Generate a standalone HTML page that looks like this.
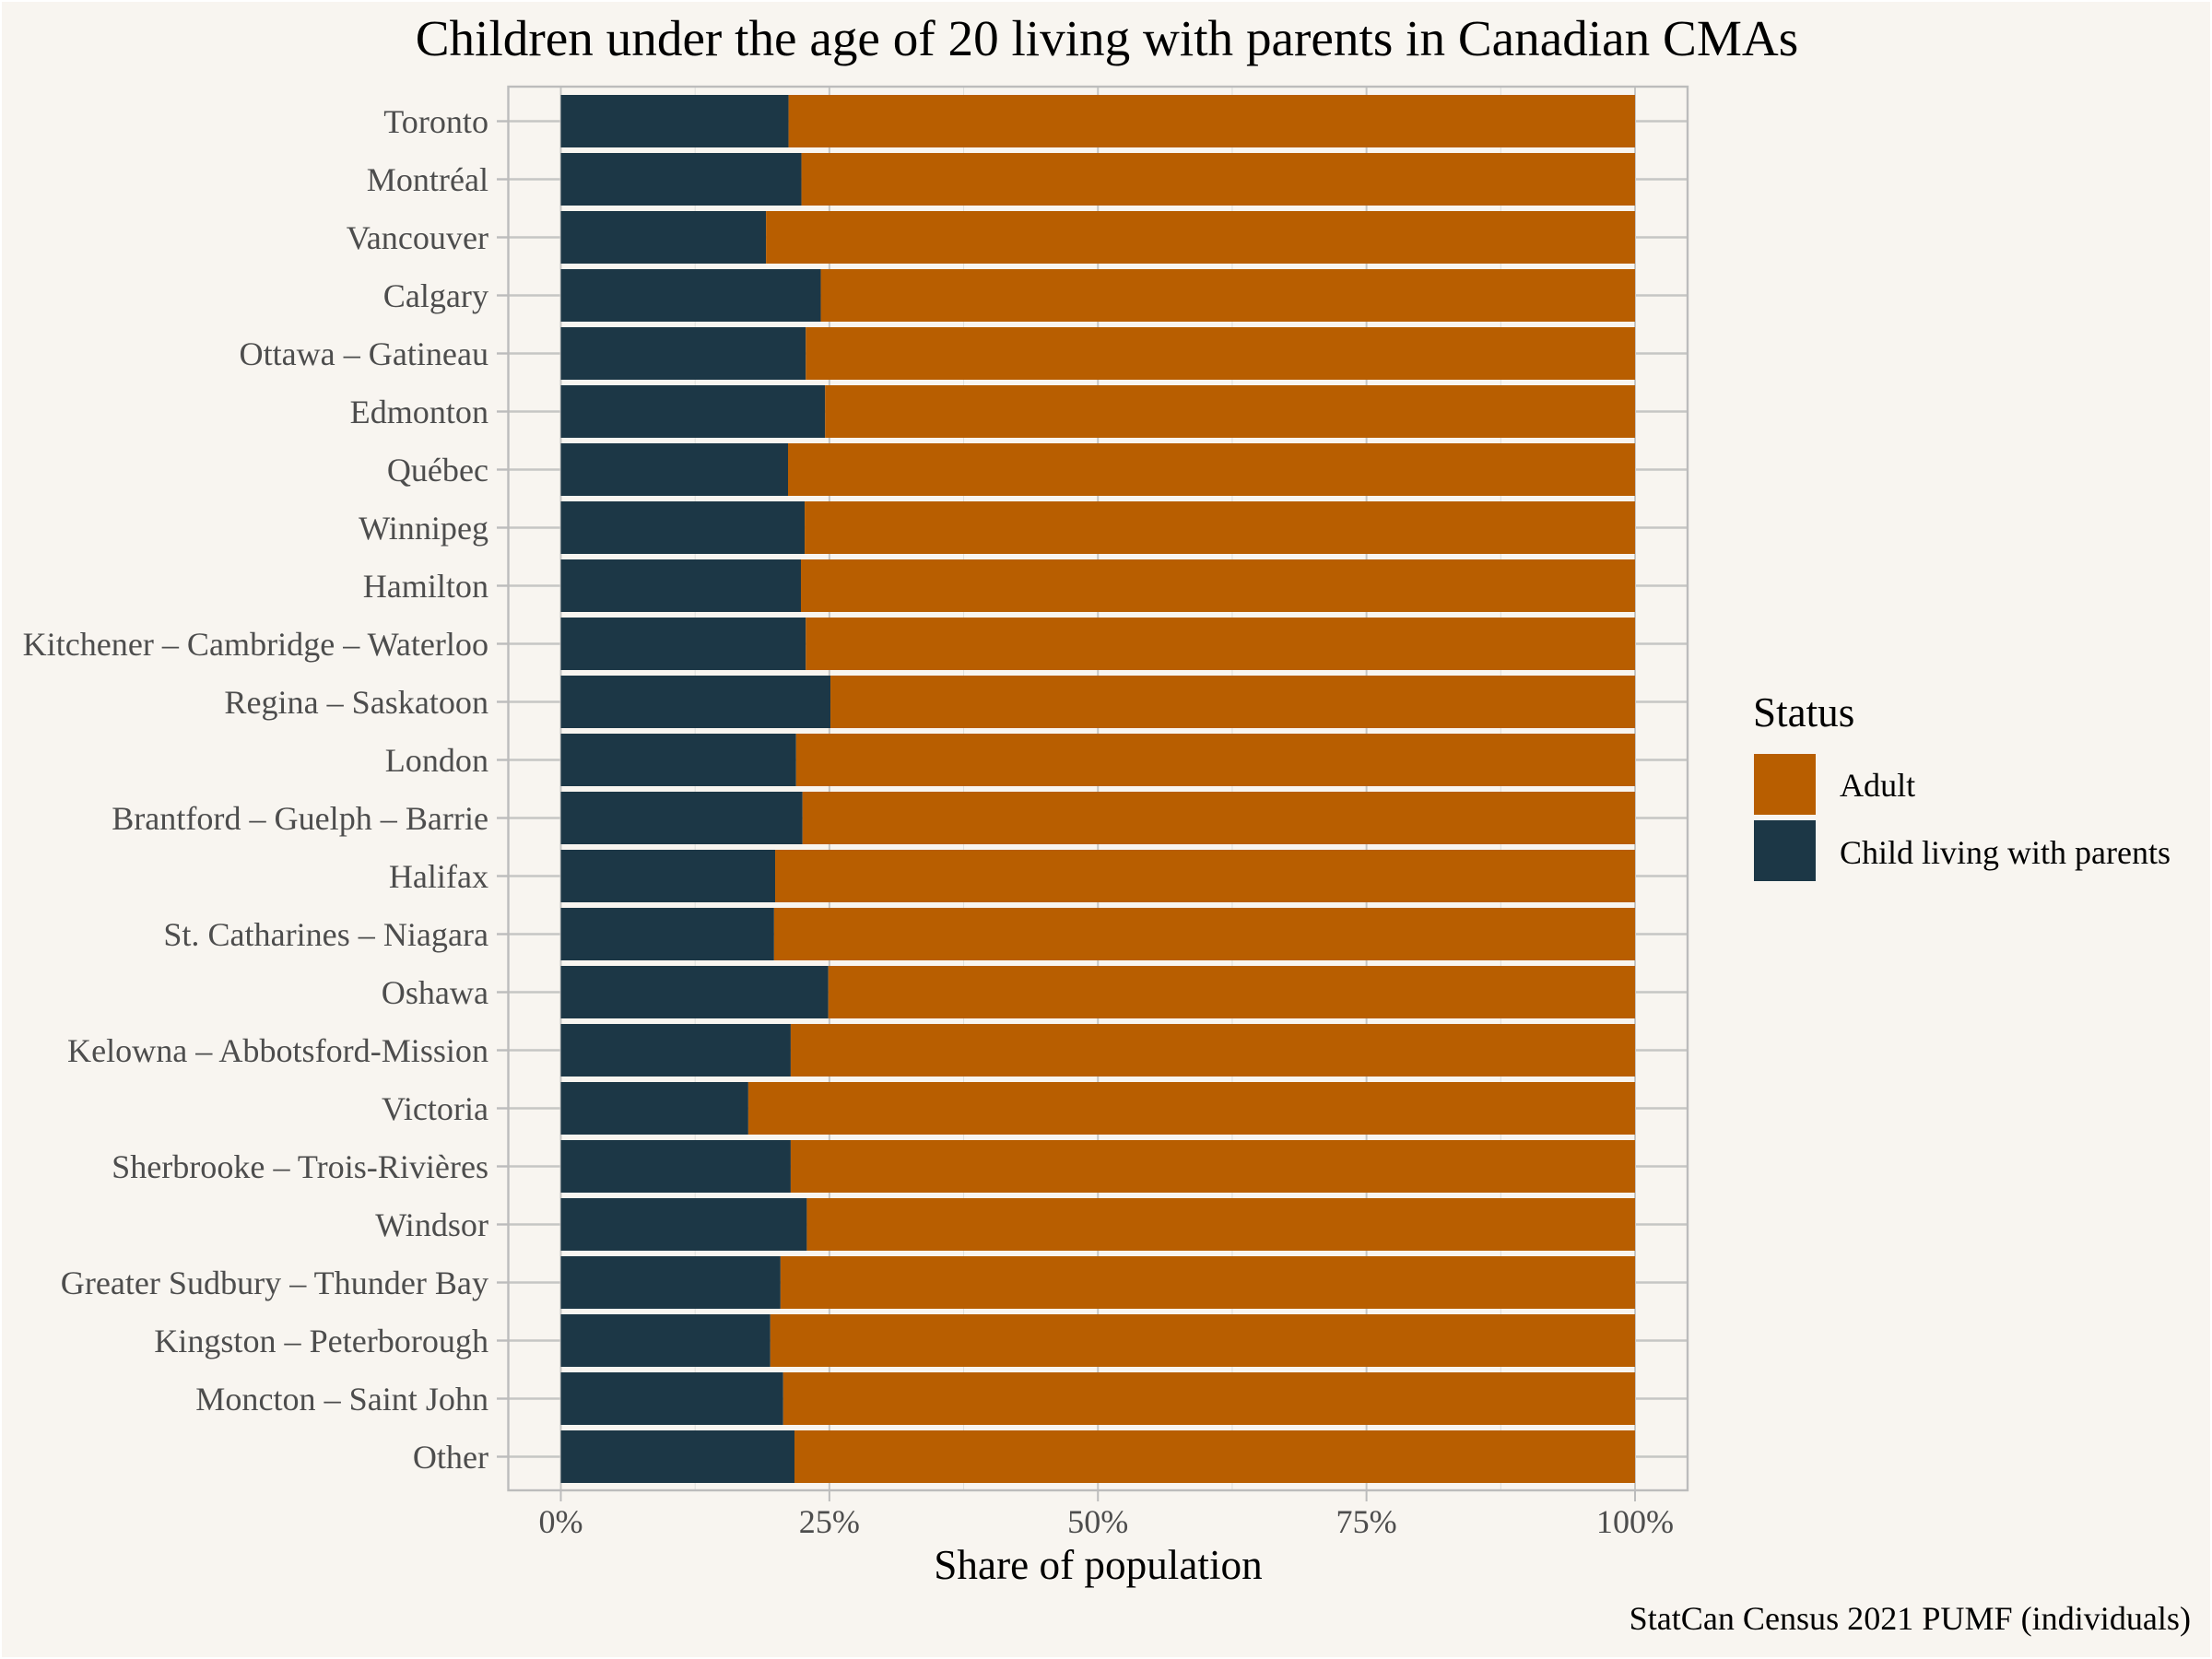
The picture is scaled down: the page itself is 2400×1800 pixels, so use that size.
<!DOCTYPE html>
<html lang="en">
<head>
<meta charset="utf-8">
<title>Children under the age of 20 living with parents in Canadian CMAs</title>
<style>
html,body{margin:0;padding:0;background:#fff;}
svg{display:block;font-family:"Liberation Serif","Times New Roman",serif;}
</style>
</head>
<body>
<svg id="chart" xmlns="http://www.w3.org/2000/svg" width="2400" height="1800" viewBox="0 0 2400 1800">
  <rect x="2" y="2" width="2396" height="1796" fill="#f8f5f0"/>
  <text x="1201" y="60" text-anchor="middle" font-size="55.2" fill="#000">Children under the age of 20 living with parents in Canadian CMAs</text>
  <g id="grid"></g>
  <g id="bars"></g>
  <rect x="551.5" y="94" width="1279.5" height="1523" fill="none" stroke="#bcbcbc" stroke-width="2.4"/>
  <g id="yaxis"></g>
  <g id="xaxis"></g>
  <text x="1191.5" y="1713" text-anchor="middle" font-size="45.2" fill="#000">Share of population</text>
  <g>
    <text x="1902" y="788" font-size="45.1" fill="#000">Status</text>
    <rect x="1903" y="818" width="67" height="66" fill="#b85e00"/>
    <text x="1996" y="864" font-size="36.1" fill="#000">Adult</text>
    <rect x="1903" y="890" width="67" height="66" fill="#1c3746"/>
    <text x="1996" y="937" font-size="36" fill="#000">Child living with parents</text>
  </g>
  <text x="2377" y="1768" text-anchor="end" font-size="36.1" fill="#000">StatCan Census 2021 PUMF (individuals)</text>
</svg>
<script>
const categories = ["Toronto","Montréal","Vancouver","Calgary","Ottawa – Gatineau","Edmonton","Québec","Winnipeg","Hamilton","Kitchener – Cambridge – Waterloo","Regina – Saskatoon","London","Brantford – Guelph – Barrie","Halifax","St. Catharines – Niagara","Oshawa","Kelowna – Abbotsford-Mission","Victoria","Sherbrooke – Trois-Rivières","Windsor","Greater Sudbury – Thunder Bay","Kingston – Peterborough","Moncton – Saint John","Other"];
const childShare = [21.2,22.4,19.1,24.2,22.8,24.6,21.15,22.7,22.35,22.8,25.1,21.9,22.5,19.95,19.85,24.9,21.4,17.45,21.4,22.9,20.45,19.5,20.7,21.75];
const adultShare = [78.8,77.6,80.9,75.8,77.2,75.4,78.85,77.3,77.65,77.2,74.9,78.1,77.5,80.05,80.15,75.1,78.6,82.55,78.6,77.1,79.55,80.5,79.3,78.25];
const xMajorTicks = [0,25,50,75,100];
const xMinorTicks = [12.5,37.5,62.5,87.5];
const xTickLabels = ["0%","25%","50%","75%","100%"];

const NS = "http://www.w3.org/2000/svg";
const panel = {left:551.5, right:1831, top:94, bottom:1617};
function xScale(v){ return 608.5 + v * 11.655; }
function yCenter(i){ return 131.5 + i * 63; }
const barHeight = 57;
const colors = {child:"#1c3746", adult:"#b85e00", grid:"#c6c6c4", minor:"#dededb", tick:"#bcbcbc", text:"#4d4d4d"};

function make(tag, attrs, parent){
  const el = document.createElementNS(NS, tag);
  for (const k in attrs) el.setAttribute(k, attrs[k]);
  parent.appendChild(el);
  return el;
}
const gridG = document.getElementById("grid");
const barsG = document.getElementById("bars");
const yG = document.getElementById("yaxis");
const xG = document.getElementById("xaxis");

xMinorTicks.forEach(function(v){
  const l = make("line",{x1:xScale(v),x2:xScale(v),y1:panel.top,y2:panel.bottom,stroke:colors.minor,"stroke-width":1},gridG);
  
  
});
xMajorTicks.forEach(function(v,i){
  const l = make("line",{x1:xScale(v),x2:xScale(v),y1:panel.top,y2:panel.bottom,stroke:colors.grid,"stroke-width":2},gridG);
  
  
  const t = make("line",{x1:xScale(v),x2:xScale(v),y1:panel.bottom,y2:1629,stroke:colors.tick,"stroke-width":2},xG);
  
  
  const s = make("text",{x:xScale(v),y:1663,"text-anchor":"middle","font-size":36.1,fill:colors.text},xG);
  
  
  s.textContent = xTickLabels[i];
});
categories.forEach(function(name,i){
  const yc = yCenter(i);
  const g = make("line",{x1:panel.left,x2:panel.right,y1:yc,y2:yc,stroke:colors.grid,"stroke-width":2.4},gridG);
  
  
  const t = make("line",{x1:539,x2:panel.left,y1:yc,y2:yc,stroke:colors.tick,"stroke-width":2.4},yG);
  
  
  const s = make("text",{x:530,y:yc+12.5,"text-anchor":"end","font-size":36.1,fill:colors.text},yG);
  
  
  s.textContent = name;
  const c = make("rect",{x:xScale(0),y:yc-barHeight/2,width:xScale(childShare[i])-xScale(0),height:barHeight,fill:colors.child},barsG);
  
  
  const a = make("rect",{x:xScale(childShare[i]),y:yc-barHeight/2,width:xScale(childShare[i]+adultShare[i])-xScale(childShare[i]),height:barHeight,fill:colors.adult},barsG);
  
  
});
</script>
</body>
</html>
